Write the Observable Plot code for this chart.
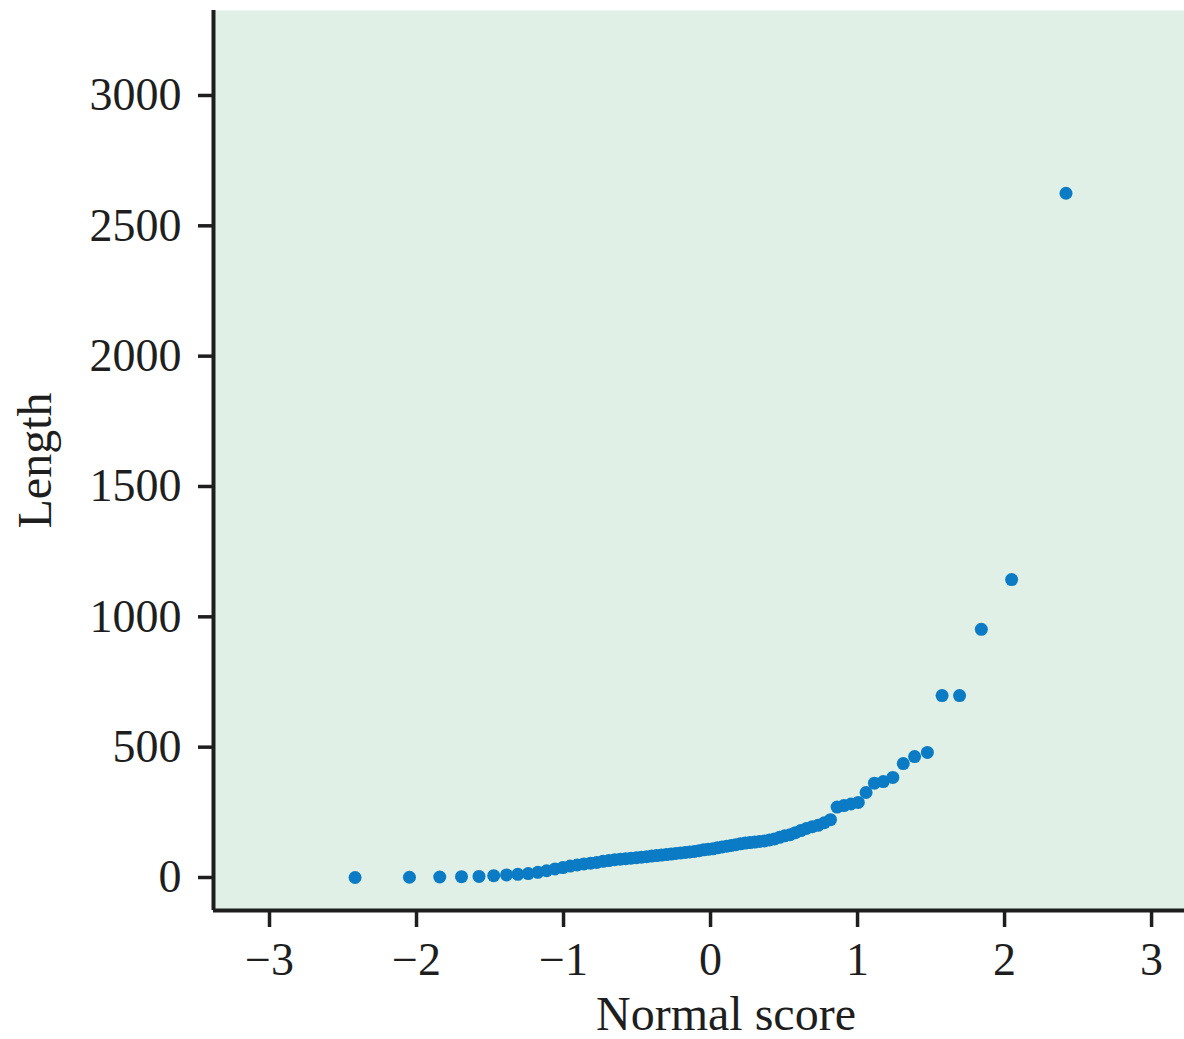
<!DOCTYPE html>
<html>
<head>
<meta charset="utf-8">
<script src="https://cdn.jsdelivr.net/npm/d3@7"></script>
<script src="https://cdn.jsdelivr.net/npm/@observablehq/plot@0.6"></script>
<style>
  html, body { margin: 0; padding: 0; background: #ffffff; }
  #chart svg { display: block; }
</style>
</head>
<body>
<div id="chart"></div>
<script>
// Normal scores (x)
const normalScore = [
  -2.418, -2.048, -1.842, -1.694, -1.575, -1.475, -1.388, -1.311, -1.240, -1.175,
  -1.115, -1.058, -1.005, -0.955, -0.907, -0.861, -0.816, -0.774, -0.732, -0.692,
  -0.652, -0.614, -0.577, -0.541, -0.505, -0.470, -0.435, -0.401, -0.367, -0.334,
  -0.301, -0.268, -0.236, -0.204, -0.172, -0.141, -0.110, -0.078, -0.047, -0.016,
   0.016,  0.047,  0.078,  0.110,  0.141,  0.172,  0.204,  0.236,  0.268,  0.301,
   0.334,  0.367,  0.401,  0.435,  0.470,  0.505,  0.541,  0.577,  0.614,  0.652,
   0.692,  0.732,  0.774,  0.816,  0.861,  0.907,  0.955,  1.005,  1.058,  1.115,
   1.175,  1.240,  1.311,  1.388,  1.475,  1.575,  1.694,  1.842,  2.048,  2.418
];
// Lengths (y)
const lengths = [
    0,    1,    2,    3,    4,    7,   10,   12,   15,   20,
   26,   33,   38,   44,   48,   52,   55,   58,   62,   65,
   68,   70,   72,   74,   76,   78,   80,   82,   84,   86,
   88,   90,   92,   94,   96,   98,  100,  103,  106,  108,
  110,  114,  117,  120,  123,  126,  129,  132,  134,  136,
  138,  140,  144,  148,  154,  160,  164,  172,  180,  188,
  195,  200,  210,  222,  270,  276,  282,  288,  326,  362,
  368,  384,  437,  464,  480,  698,  698,  952, 1143, 2625
];
const xTicks = [-3, -2, -1, 0, 1, 2, 3];
const yTicks = [0, 500, 1000, 1500, 2000, 2500, 3000];
const xDomain = [-3.381, 3.224];
const yDomain = [-126.6, 3326];
const xLabel = "Normal score";
const yLabel = "Length";

const data = normalScore.map((x, i) => ({x, y: lengths[i]}));

const ink = "#1e1e1e";
const fmtX = d => (d < 0 ? "\u2212" + (-d) : String(d));
const fmtY = d => String(d);
const chart = Plot.plot({
  width: 1184,
  height: 1039,
  marginLeft: 213,
  marginRight: 0,
  marginTop: 10,
  marginBottom: 129,
  style: {fontFamily: "'Liberation Serif', 'DejaVu Serif', serif", fontSize: "46px", color: ink, background: "#ffffff"},
  x: {domain: xDomain},
  y: {domain: yDomain},
  marks: [
    Plot.frame({fill: "#e0f0e6", stroke: "none"}),
    Plot.axisX({ticks: xTicks, tickFormat: fmtX, tickSize: 17, tickPadding: 15, strokeWidth: 3.5, stroke: ink, fill: ink, fontSize: 46, label: null}),
    Plot.axisY({ticks: yTicks, tickFormat: fmtY, tickSize: 15, tickPadding: 17, strokeWidth: 3.5, stroke: ink, fill: ink, fontSize: 46, label: null}),
    Plot.ruleX([xDomain[0]], {stroke: ink, strokeWidth: 4}),
    Plot.ruleY([yDomain[0]], {stroke: ink, strokeWidth: 4}),
    Plot.dot(data, {x: "x", y: "y", r: 6.5, fill: "#0a7bc4", stroke: "none"}),
    Plot.text([xLabel], {text: d => d, frameAnchor: "bottom", textAnchor: "middle", dx: 27, dy: 104, lineAnchor: "middle", fontSize: 48, fill: ink}),
    Plot.text([yLabel], {text: d => d, frameAnchor: "left", textAnchor: "middle", dx: -178, rotate: -90, lineAnchor: "middle", fontSize: 48, fill: ink})
  ]
});
document.getElementById("chart").appendChild(chart);
</script>
</body>
</html>
